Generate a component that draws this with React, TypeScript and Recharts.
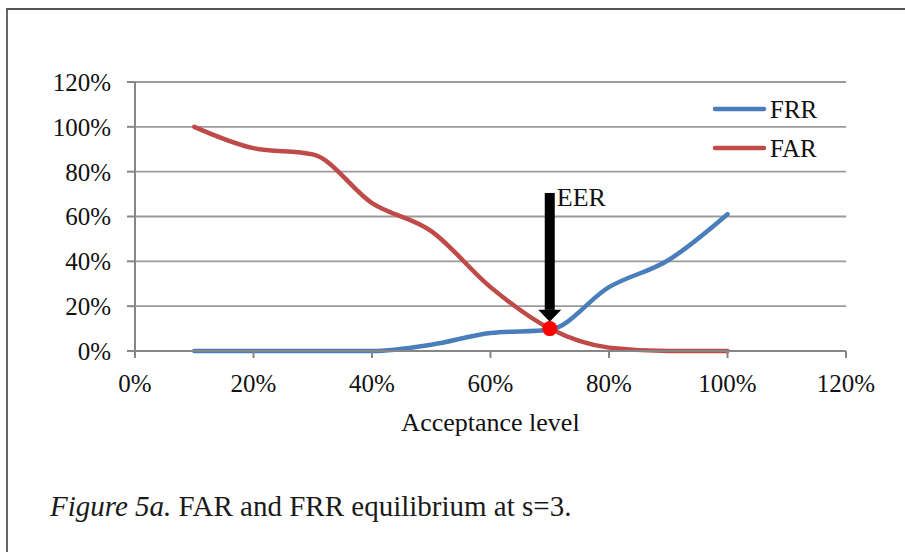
import React from 'react';
import {
  LineChart,
  Line,
  XAxis,
  YAxis,
  CartesianGrid,
  Legend,
  ReferenceDot,
  ReferenceLine,
} from 'recharts';

// ---- data ----
const acceptance = [0.1, 0.2, 0.3, 0.4, 0.5, 0.6, 0.7, 0.8, 0.9, 1.0];
const frr = [0, 0, 0, 0, 0.028, 0.08, 0.095, 0.285, 0.405, 0.61];
const far = [1.0, 0.905, 0.877, 0.66, 0.535, 0.285, 0.1, 0.015, 0, 0];
const xTicks = [0, 0.2, 0.4, 0.6, 0.8, 1.0, 1.2];
const yTicks = [0, 0.2, 0.4, 0.6, 0.8, 1.0, 1.2];
const seriesOrder = ['FRR', 'FAR'];
const eerPoint = { x: 0.7, y: 0.1 };
const arrowFrom = { x: 0.7, y: 0.705 };
const arrowTo = { x: 0.7, y: 0.13 };
const eerLabel = 'EER';
const xLabel = 'Acceptance level';
const captionItalic = 'Figure 5a.';
const captionRest = ' FAR and FRR equilibrium at s=3.';

const data = acceptance.map((a, i) => ({ a, FRR: frr[i], FAR: far[i] }));

const FONT = '"Liberation Serif", "Times New Roman", serif';
const BLUE = '#4a7ebb';
const RED = '#be4b48';
const AXIS = '#868686';
const GRID = '#9a9a9a';

const pct = (v: number) => `${Math.round(v * 100)}%`;

const ArrowShape = (props: any) => {
  const { x1, y1, y2 } = props;
  if (x1 == null || y1 == null || y2 == null) return <g />;
  const headH = 12;
  const headW = 11.5;
  const shaftW = 5;
  return (
    <g>
      <rect x={x1 - shaftW} y={y1} width={shaftW * 2} height={y2 - headH - y1} fill="#000" />
      <polygon
        points={`${x1 - headW},${y2 - headH} ${x1 + headW},${y2 - headH} ${x1},${y2}`}
        fill="#000"
      />
      <text x={x1 + 7} y={y1 + 13} fontFamily={FONT} fontSize={26} fill="#111">
        {eerLabel}
      </text>
    </g>
  );
};

const LegendContent = (props: any) => {
  const payload = [...(props.payload || [])].sort(
    (a: any, b: any) => seriesOrder.indexOf(a.value) - seriesOrder.indexOf(b.value)
  );
  return (
    <div style={{ fontFamily: FONT, fontSize: 25, color: '#111' }}>
      {payload.map((p: any) => (
        <div
          key={p.value}
          style={{ height: 39, display: 'flex', alignItems: 'center', lineHeight: '39px' }}
        >
          <svg width={56} height={8} style={{ display: 'block' }}>
            <line x1={3} y1={4} x2={52} y2={4} stroke={p.color} strokeWidth={4.5} strokeLinecap="round" />
          </svg>
          <span style={{ marginLeft: 2 }}>{p.value}</span>
        </div>
      ))}
    </div>
  );
};

export default function App() {
  return (
    <div
      style={{
        position: 'fixed',
        left: 0,
        top: 0,
        width: 905,
        height: 552,
        overflow: 'hidden',
        background: '#fff',
      }}
    >
      <div
        style={{
          position: 'absolute',
          left: 6,
          top: 8,
          width: 1000,
          height: 1000,
          borderLeft: '2px solid #666',
          borderTop: '2px solid #555',
        }}
      />
      <div style={{ position: 'absolute', left: 0, top: 0 }}>
        <LineChart
          width={905}
          height={552}
          data={data}
          margin={{ top: 82, right: 59, left: 0, bottom: 111 }}
        >
          <CartesianGrid vertical={false} stroke={GRID} strokeWidth={1.8} />
          <XAxis
            dataKey="a"
            type="number"
            domain={[0, 1.2]}
            ticks={xTicks}
            tickFormatter={pct}
            height={90}
            stroke={AXIS}
            strokeWidth={2}
            tickSize={7}
            tickMargin={16}
            tick={{ fill: '#111', fontSize: 25, fontFamily: FONT }}
            label={{
              value: xLabel,
              position: 'insideBottom',
              offset: 10,
              fill: '#111',
              fontSize: 26,
              fontFamily: FONT,
            }}
          />
          <YAxis
            type="number"
            domain={[0, 1.2]}
            ticks={yTicks}
            tickFormatter={pct}
            width={135}
            stroke={AXIS}
            strokeWidth={2}
            tickSize={8}
            tickMargin={16}
            tick={{ fill: '#111', fontSize: 25, fontFamily: FONT }}
          />
          <Legend
            layout="horizontal"
            verticalAlign="middle"
            align="center"
            content={<LegendContent />}
            wrapperStyle={{ left: 712, top: 89.5, width: 150, right: 'auto', bottom: 'auto' }}
          />
          <Line
            type="monotone"
            dataKey="FRR"
            stroke={BLUE}
            strokeWidth={4.5}
            dot={false}
            isAnimationActive={false}
            strokeLinecap="round"
          />
          <Line
            type="monotone"
            dataKey="FAR"
            stroke={RED}
            strokeWidth={4.5}
            dot={false}
            isAnimationActive={false}
            strokeLinecap="round"
          />
          <ReferenceLine
            segment={[arrowFrom, arrowTo]}
            stroke="#000"
            shape={ArrowShape}
          />
          <ReferenceDot x={eerPoint.x} y={eerPoint.y} r={7.5} fill="#ff0000" stroke="none" />
        </LineChart>
      </div>
      <div
        style={{
          position: 'absolute',
          left: 50,
          top: 492,
          fontFamily: FONT,
          fontSize: 29,
          lineHeight: '29px',
          color: '#1a1a1a',
          whiteSpace: 'nowrap',
        }}
      >
        <i>{captionItalic}</i>
        {captionRest}
      </div>
    </div>
  );
}
